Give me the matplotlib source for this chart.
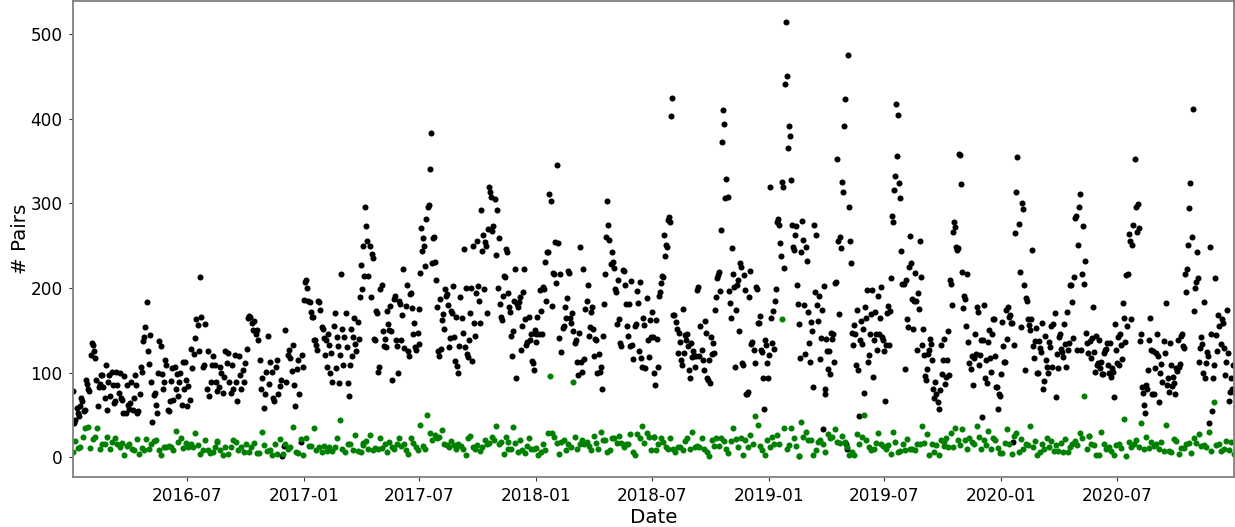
import matplotlib
matplotlib.use("Agg")
import matplotlib.pyplot as plt
import pandas as pd

# one list per half year, values left to right
half_starts = ["2016-01-04", "2016-07-01", "2017-01-01", "2017-07-01", "2018-01-01",
               "2018-07-01", "2019-01-01", "2019-07-01", "2020-01-01", "2020-07-01"]
half_ends = ["2016-06-30", "2016-12-31", "2017-06-30", "2017-12-31", "2018-06-30",
             "2018-12-31", "2019-06-30", "2019-12-31", "2020-06-30", "2021-01-01"]

pairs_2016a = [78, 40, 44, 58, 52, 48, 60, 70, 66, 54, 56, 91, 86, 81, 78, 121, 135, 133, 125, 117, 91, 60, 83, 86, 97,
               97, 83, 70, 109, 56, 89, 97, 72, 101, 85, 64, 66, 101, 85, 76, 100, 70, 67, 52, 96, 52, 85, 62, 57, 64,
               89, 56, 70, 97, 85, 52, 54, 75, 106, 101, 137, 142, 154, 183, 125, 110, 144, 89, 41, 73, 76, 62, 52, 100,
               137, 131, 98, 81, 89, 115, 109, 56, 55, 66, 90, 105, 68, 107, 80, 98, 72, 89, 99, 61, 112, 80, 112, 91]
pairs_2016b = [60, 84, 68, 128, 105, 122, 141, 163, 156, 126, 213, 166, 106, 109, 157, 81, 125, 72, 89, 109, 120, 109,
               89, 78, 83, 107, 99, 76, 95, 125, 111, 123, 89, 76, 109, 80, 121, 89, 66, 119, 97, 80, 103, 89, 111, 128,
               164, 167, 166, 159, 150, 161, 146, 150, 139, 115, 80, 93, 58, 74, 101, 143, 86, 112, 101, 70, 66, 107,
               115, 75, 84, 91, 1, 13, 150, 89, 121, 127, 117, 102, 133, 85, 60, 104, 115, 75, 18, 121, 107]
pairs_2017a = [186, 207, 209, 200, 184, 183, 171, 166, 166, 138, 139, 133, 127, 185, 183, 174, 154, 152, 141, 121, 139,
               106, 146, 133, 99, 123, 89, 155, 170, 105, 142, 131, 87, 121, 216, 152, 109, 142, 170, 130, 87, 72, 109,
               152, 120, 142, 164, 134, 126, 160, 140, 189, 227, 199, 250, 214, 296, 273, 256, 214, 250, 189, 240, 236,
               140, 138, 173, 170, 101, 106, 199, 203, 149, 131, 140, 130, 173, 157, 150, 179, 149, 91, 187, 191, 139,
               131, 99, 185, 181, 139, 168, 222, 129, 179, 204, 126, 120, 193, 194, 176, 146, 158, 130, 127, 147, 134]
pairs_2017b = [175, 218, 271, 244, 259, 250, 226, 281, 296, 298, 341, 383, 229, 259, 260, 231, 210, 178, 125, 120, 187,
               128, 162, 169, 152, 199, 191, 193, 180, 130, 141, 173, 170, 202, 142, 114, 166, 108, 99, 131, 189, 164,
               147, 246, 130, 200, 122, 118, 138, 170, 200, 114, 250, 158, 143, 194, 255, 202, 185, 158, 292, 244, 263,
               199, 254, 250, 170, 270, 320, 313, 307, 267, 273, 305, 239, 292, 200, 259, 181, 166, 162, 191, 214, 213,
               246, 243, 194, 177, 172, 143, 120, 149, 185, 223, 94, 181, 177, 183, 189, 127, 155, 195, 222, 163, 133,
               136, 166, 138, 146, 114, 111, 103, 150, 146]
pairs_2018a = [136, 166, 145, 197, 173, 145, 201, 199, 231, 185, 242, 242, 311, 303, 179, 218, 216, 254, 206, 345, 253,
               141, 216, 124, 153, 155, 177, 165, 188, 220, 218, 164, 159, 170, 149, 135, 139, 112, 97, 147, 248, 113,
               101, 222, 116, 175, 185, 204, 143, 154, 171, 178, 152, 120, 140, 138, 99, 122, 101, 107, 80, 143, 181,
               216, 260, 303, 275, 257, 228, 243, 231, 224, 199, 195, 157, 210, 163, 135, 131, 221, 220, 203, 181, 155,
               143, 181, 131, 208, 132, 116, 155, 157, 196, 182, 126, 207, 117, 107, 165, 156, 105, 188, 138, 118, 162, 142]
pairs_2018b = [172, 142, 99, 85, 162, 140, 107, 190, 195, 206, 214, 213, 263, 238, 251, 248, 280, 284, 278, 403, 425, 168,
               168, 160, 152, 123, 147, 136, 115, 109, 175, 123, 144, 138, 145, 131, 103, 93, 135, 118, 125, 119, 107,
               120, 197, 201, 120, 155, 127, 115, 103, 161, 147, 94, 91, 115, 88, 142, 122, 135, 123, 174, 189, 212, 215,
               219, 196, 268, 373, 410, 394, 306, 329, 307, 196, 182, 164, 247, 216, 201, 107, 174, 203, 210, 149, 229,
               225, 111, 109, 215, 197, 75, 75, 77, 189, 220, 134, 136, 127, 111, 201, 199, 159, 158, 167, 127, 124, 93,
               57, 138, 133, 111, 94]
pairs_2019a = [121, 320, 164, 135, 173, 128, 184, 199, 278, 282, 275, 253, 238, 325, 320, 224, 441, 514, 451, 366, 392,
               380, 328, 275, 248, 245, 263, 273, 204, 181, 157, 117, 242, 279, 257, 180, 122, 249, 232, 172, 135, 112,
               160, 149, 83, 275, 195, 263, 180, 161, 190, 116, 141, 174, 33, 202, 81, 75, 140, 125, 104, 126, 98, 147,
               140, 146, 112, 206, 207, 353, 256, 169, 260, 247, 325, 313, 392, 423, 16, 10, 475, 296, 256, 229, 147, 132,
               156, 146, 109, 174, 103, 48, 138, 161, 134, 151, 76, 177, 164, 197, 113, 121, 146, 169, 197, 95, 139, 172,
               146, 127, 190, 146, 164, 201, 142, 138]
pairs_2019b = [126, 66, 133, 170, 179, 132, 173, 212, 285, 278, 316, 333, 417, 356, 405, 324, 306, 244, 205, 205, 104,
               210, 163, 154, 225, 262, 229, 187, 151, 185, 218, 185, 127, 194, 175, 255, 213, 132, 152, 121, 96, 91, 104,
               122, 127, 140, 134, 115, 81, 70, 89, 74, 65, 57, 79, 132, 98, 115, 140, 86, 95, 115, 149, 97, 209, 205, 180,
               266, 278, 272, 249, 245, 247, 359, 357, 323, 219, 176, 190, 187, 155, 217, 136, 111, 104, 119, 85, 117, 146,
               122, 178, 172, 109, 121, 138, 47, 138, 180, 93, 115, 88, 136, 150, 117, 101, 146, 163, 163, 120, 83, 83,
               57, 74, 72]
pairs_2020a = [98, 160, 131, 113, 112, 174, 140, 178, 166, 168, 159, 158, 18, 133, 265, 313, 355, 276, 219, 154, 301, 293,
               204, 103, 188, 184, 163, 156, 150, 163, 245, 131, 117, 137, 153, 99, 100, 137, 129, 124, 159, 80, 90, 143,
               115, 106, 99, 136, 130, 155, 107, 157, 170, 71, 122, 105, 142, 146, 128, 124, 118, 157, 134, 107, 172, 127,
               135, 204, 204, 183, 141, 213, 283, 285, 127, 251, 296, 311, 127, 217, 273, 205, 232, 147, 135, 123, 137,
               117, 141, 178, 124, 101, 143, 109, 111, 139, 105, 113, 98, 98, 123, 127, 128, 135, 109, 100, 135, 95, 105,
               101, 71, 157, 127]
pairs_2020b = [111, 142, 109, 145, 133, 116, 182, 164, 136, 215, 155, 217, 264, 255, 163, 251, 274, 352, 296, 266, 299,
               271, 137, 145, 83, 76, 62, 52, 85, 81, 103, 139, 165, 127, 74, 126, 74, 105, 123, 146, 120, 65, 100, 110,
               89, 137, 123, 182, 85, 94, 77, 135, 109, 84, 95, 87, 74, 105, 102, 139, 107, 110, 143, 146, 131, 129, 216,
               195, 223, 251, 294, 324, 260, 412, 173, 200, 207, 243, 212, 113, 129, 142, 134, 99, 183, 94, 111, 124, 119,
               40, 249, 146, 54, 93, 109, 212, 144, 125, 168, 155, 134, 163, 159, 129, 97, 113, 174, 123, 66, 77, 93, 81,
               109, 77]

unique_starts = ["2016-01-04", "2016-08-18", "2017-04-04", "2017-11-18",
                 "2018-07-04", "2019-02-17", "2019-10-03", "2020-05-18"]
unique_ends = ["2016-08-18", "2017-04-04", "2017-11-18", "2018-07-04",
               "2019-02-17", "2019-10-03", "2020-05-18", "2021-01-01"]

unique_a = [6, 19, 11, 12, 24, 34, 35, 11, 21, 24, 34, 10, 15, 16, 24, 9, 18, 22, 15, 12, 17, 2, 13, 15, 10, 8, 21, 4, 11,
            8, 21, 10, 16, 19, 20, 8, 2, 12, 12, 13, 12, 8, 31, 18, 23, 11, 17, 12, 15, 12, 29, 14, 4, 8, 20, 8, 5, 6, 12, 19]
unique_b = [18, 8, 2, 12, 4, 12, 20, 18, 8, 12, 6, 16, 6, 12, 17, 5, 5, 30, 14, 7, 8, 3, 15, 4, 21, 4, 15, 10, 12, 35, 6,
            5, 21, 2, 22, 13, 13, 34, 8, 12, 6, 13, 7, 12, 7, 12, 23, 44, 10, 6, 16, 16, 8, 26, 7, 6, 17]
unique_c = [14, 19, 10, 26, 8, 11, 10, 23, 11, 15, 6, 18, 12, 10, 16, 22, 13, 16, 8, 4, 22, 17, 12, 8, 38, 13, 10, 50, 29,
            20, 26, 22, 24, 32, 15, 14, 12, 19, 14, 10, 16, 13, 10, 3, 23, 25, 12, 10, 14, 7, 12, 20, 15, 17, 24, 20, 37,
            15, 18, 4, 24, 10]
unique_d = [18, 10, 36, 17, 6, 20, 8, 5, 13, 22, 10, 10, 11, 2, 6, 16, 8, 29, 96, 28, 24, 17, 4, 18, 20, 8, 15, 12, 89, 24,
            9, 15, 20, 15, 18, 13, 8, 25, 17, 10, 30, 20, 20, 6, 8, 23, 23, 17, 25, 17, 12, 15, 15, 27, 6, 3, 27, 22, 37,
            17, 28, 24, 8, 24]
unique_e = [24, 8, 15, 22, 18, 12, 10, 22, 10, 6, 12, 12, 8, 19, 22, 10, 30, 12, 13, 12, 22, 10, 6, 1, 20, 13, 22, 13, 23,
            19, 10, 5, 19, 34, 21, 12, 22, 3, 20, 12, 26, 15, 48, 38, 13, 8, 3, 20, 12, 24, 15, 26, 15, 163, 34, 9, 14, 34,
            23, 13, 1]
unique_f = [1, 42, 24, 30, 20, 20, 3, 8, 18, 20, 15, 6, 27, 22, 24, 33, 18, 17, 25, 18, 12, 3, 6, 2, 27, 15, 24, 50, 20, 12,
            8, 9, 17, 29, 15, 13, 10, 14, 4, 30, 18, 6, 7, 15, 8, 21, 10, 10, 8, 16, 15, 37, 17, 27, 3, 16, 6, 14, 2, 20, 13]
unique_g = [18, 22, 12, 28, 12, 34, 20, 14, 33, 20, 10, 23, 18, 15, 37, 24, 9, 20, 14, 31, 10, 22, 20, 11, 5, 5, 17, 33, 16,
            4, 25, 29, 6, 21, 10, 15, 14, 37, 12, 19, 3, 6, 15, 10, 22, 12, 19, 7, 14, 7, 17, 6, 21, 6, 12, 15, 19, 14, 29,
            23, 72, 10, 25]
unique_h = [25, 16, 14, 2, 2, 30, 15, 10, 12, 7, 3, 14, 15, 11, 45, 1, 18, 12, 15, 20, 12, 40, 9, 24, 11, 18, 13, 15, 10, 18,
            7, 38, 7, 6, 21, 19, 4, 11, 11, 16, 17, 5, 23, 17, 27, 13, 14, 12, 30, 7, 65, 14, 16, 7, 10, 19, 8, 18, 4]

pairs_halves = [pairs_2016a, pairs_2016b, pairs_2017a, pairs_2017b, pairs_2018a,
                pairs_2018b, pairs_2019a, pairs_2019b, pairs_2020a, pairs_2020b]
unique_windows = [unique_a, unique_b, unique_c, unique_d, unique_e, unique_f, unique_g, unique_h]

plt.rcParams["font.family"] = "DejaVu Sans"
fig, ax = plt.subplots(figsize=(12.35, 5.27), dpi=100)


def spread(starts, ends, groups):
    xs, ys = [], []
    for start, end, vals in zip(starts, ends, groups):
        xs.extend(pd.date_range(start, end, periods=len(vals)))
        ys.extend(vals)
    return xs, ys


x, y = spread(half_starts, half_ends, pairs_halves)
ax.scatter(x, y, s=19, color="black", linewidths=0)
x, y = spread(unique_starts, unique_ends, unique_windows)
ax.scatter(x, y, s=19, color="green", linewidths=0)

ax.set_xlim(pd.Timestamp("2016-01-04"), pd.Timestamp("2021-01-01"))
ax.set_ylim(-23.6, 540)
ax.set_xticks(pd.to_datetime(["2016-07-01", "2017-01-01", "2017-07-01", "2018-01-01", "2018-07-01",
                              "2019-01-01", "2019-07-01", "2020-01-01", "2020-07-01"]))
ax.set_xticklabels(["2016-07", "2017-01", "2017-07", "2018-01", "2018-07",
                    "2019-01", "2019-07", "2020-01", "2020-07"])
ax.set_yticks([0, 100, 200, 300, 400, 500])
ax.tick_params(labelsize=12.2, length=3, width=0.8, color="#333333", pad=4.5)
ax.set_xlabel("Date", fontsize=14.3, labelpad=2)
ax.set_ylabel("# Pairs", fontsize=14.3, labelpad=0.5)
for s in ax.spines.values():
    s.set_color("#808080")
    s.set_linewidth(1.3)

fig.subplots_adjust(left=73 / 1235, right=1234 / 1235, top=1 - 0.5 / 527, bottom=1 - 477 / 527)
fig.savefig("out.png", dpi=100)
